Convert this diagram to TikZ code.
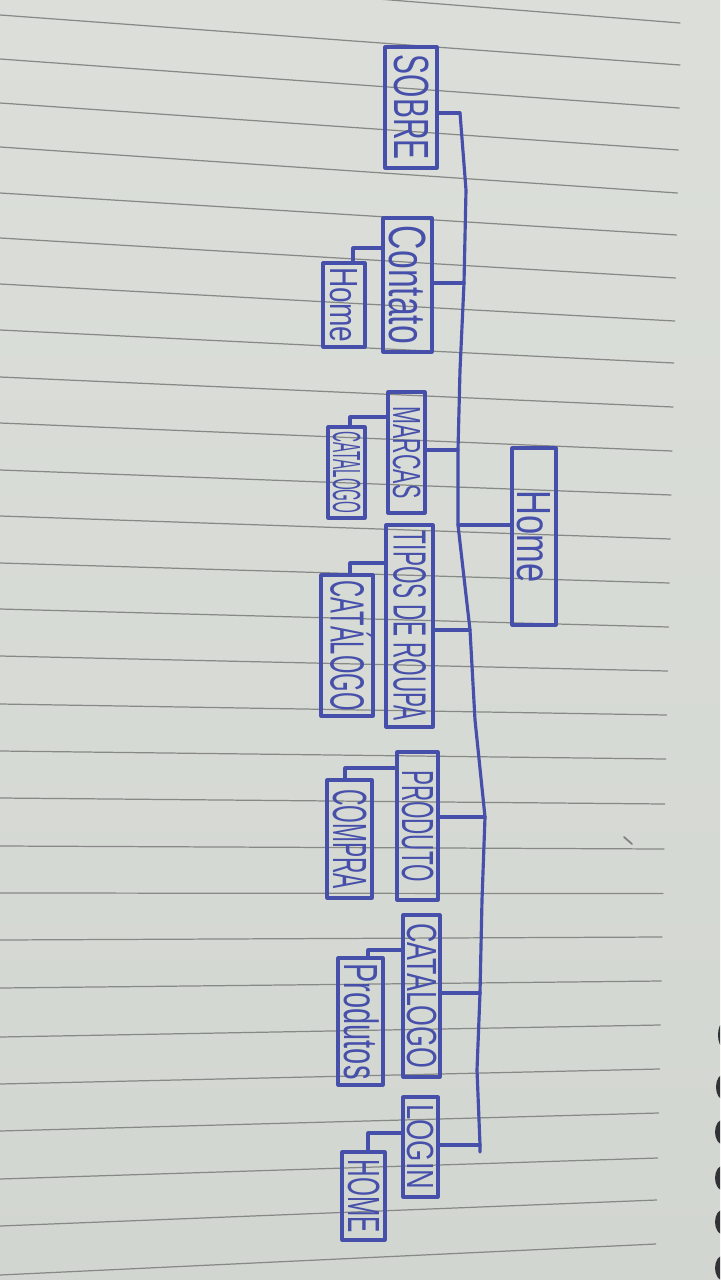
\documentclass[tikz,border=0pt]{standalone}
\usepackage{fontspec}
\setmainfont{Liberation Sans}
\newlength\px
\setlength\px{0.02cm}
\definecolor{ink}{RGB}{70,80,170}
\definecolor{paperA}{RGB}{220,223,217}
\definecolor{paperB}{RGB}{210,214,209}
\definecolor{rulec}{RGB}{135,137,135}
\definecolor{holec}{RGB}{48,50,52}
\newcommand\hw[3]{\rotatebox{-90}{\resizebox{#1\px}{#2\px}{\raisebox{0pt}[\fontcharht\font`H][0pt]{#3}}}}
\begin{document}
\begin{tikzpicture}[x=0.02cm,y=-0.02cm,line join=round,line cap=round,
  pen/.style={draw=ink,line width=1.8pt},
  bx/.style 2 args={pen,rectangle,inner sep=0pt,minimum width=#1\px,minimum height=#2\px,text=ink},
  ruleline/.style={draw=rulec,line width=0.7pt},
  hole/.style={fill=holec}]
\useasboundingbox (0,0) rectangle (720,1280);
\clip (0,0) rectangle (720,1280);
\shade[top color=paperA,bottom color=paperB] (0,0) rectangle (720,1280);
% ruled lines
\draw[ruleline] (0,-31) -- (680,23);
\foreach \a/\b [count=\i] in {15/65,59/108,103/150,147/193,193/235,238/278,284/321,330/363,377/407,423/451,470/495,516/539,563/583,609/627,656/671,704/715,751/759,798/804,846/849,893/893.6,940/937,988/981,1037/1025,1084/1069,1131/1113,1179/1158,1226/1200,1275/1244}
  \draw[ruleline] (0,\a) -- ({681-0.9*\i},\b);
% binder holes
\foreach \y/\r in {1035/6,1087/8,1132/9,1178/9,1222/9,1268/9}
  \fill[hole] (724,\y) ellipse [x radius=\r, y radius=13];
% pencil mark
\draw[gray,line width=1pt] (624,837) -- (632,844);
% boxes
\node[bx={44}{177}] (root) at (534,536.5) {\hw{92}{33}{Home}};
\node[bx={52}{121}] (sobre) at (411,107.5) {\hw{105}{34}{SOBRE}};
\node[bx={49}{134}] (contato) at (407.5,285) {\hw{118}{36}{Contato}};
\node[bx={42}{84}] (homeA) at (344,305) {\hw{75}{27}{Home}};
\node[bx={37}{121}] (marcas) at (406.5,452.5) {\hw{92}{27}{MARCAS}};
\node[bx={37}{91}] (catA) at (346.5,472.5) {\hw{82}{27}{CATALOGO}};
\node[bx={47}{202}] (tipos) at (409.5,626) {\hw{190}{32}{TIPOS DE ROUPA}};
\node[bx={52}{141}] (catB) at (347,645.5) {\hw{130}{33}{CATÁLOGO}};
\node[bx={41}{148}] (produto) at (417.5,826) {\hw{112}{31}{PRODUTO}};
\node[bx={45}{118}] (compra) at (349.5,839) {\hw{100}{33}{COMPRA}};
\node[bx={37}{162}] (catC) at (421.5,996) {\hw{145}{29}{CATALOGO}};
\node[bx={45}{127}] (produtos) at (360.5,1021.5) {\hw{116}{33}{Produtos}};
\node[bx={35}{100}] (login) at (420.5,1147) {\hw{85}{26}{LOGIN}};
\node[bx={43}{88}] (homeB) at (363.5,1196) {\hw{73}{31}{HOME}};
% trunk
\coordinate (t1) at (460,113);
\coordinate (t2) at (466,190);
\coordinate (t3) at (464,283);
\coordinate (t4) at (460,370);
\coordinate (t5) at (458,450);
\coordinate (t6) at (458,525);
\coordinate (t7) at (470,630);
\coordinate (t8) at (475,720);
\coordinate (t9) at (485,817);
\coordinate (t10) at (482,900);
\coordinate (t11) at (480,993);
\coordinate (t12) at (477,1070);
\coordinate (t13) at (480,1145);
\coordinate (t14) at (480,1152);
\draw[pen] (t1) -- (t2) -- (t3) -- (t4) -- (t5) -- (t6) -- (t7) -- (t8) -- (t9) -- (t10) -- (t11) -- (t12) -- (t13) -- (t14);
% branches
\draw[pen] (t6) -- (root.west |- t6);
\draw[pen] (t1) -- (sobre.east |- t1);
\draw[pen] (t3) -- (contato.east |- t3);
\draw[pen] (t5) -- (marcas.east |- t5);
\draw[pen] (t7) -- (tipos.east |- t7);
\draw[pen] (t9) -- (produto.east |- t9);
\draw[pen] (t11) -- (catC.east |- t11);
\draw[pen] (t13) -- (login.east |- t13);
% sub-branches
\draw[pen] (contato.west |- 0,248) -| (353,0 |- homeA.north);
\draw[pen] (marcas.west |- 0,417) -| (350,0 |- catA.north);
\draw[pen] (tipos.west |- 0,563) -| (350,0 |- catB.north);
\draw[pen] (produto.west |- 0,768) -| (345,0 |- compra.north);
\draw[pen] (catC.west |- 0,950) -| (368,0 |- produtos.north);
\draw[pen] (login.west |- 0,1133) -| (368,0 |- homeB.north);
\end{tikzpicture}
\end{document}
